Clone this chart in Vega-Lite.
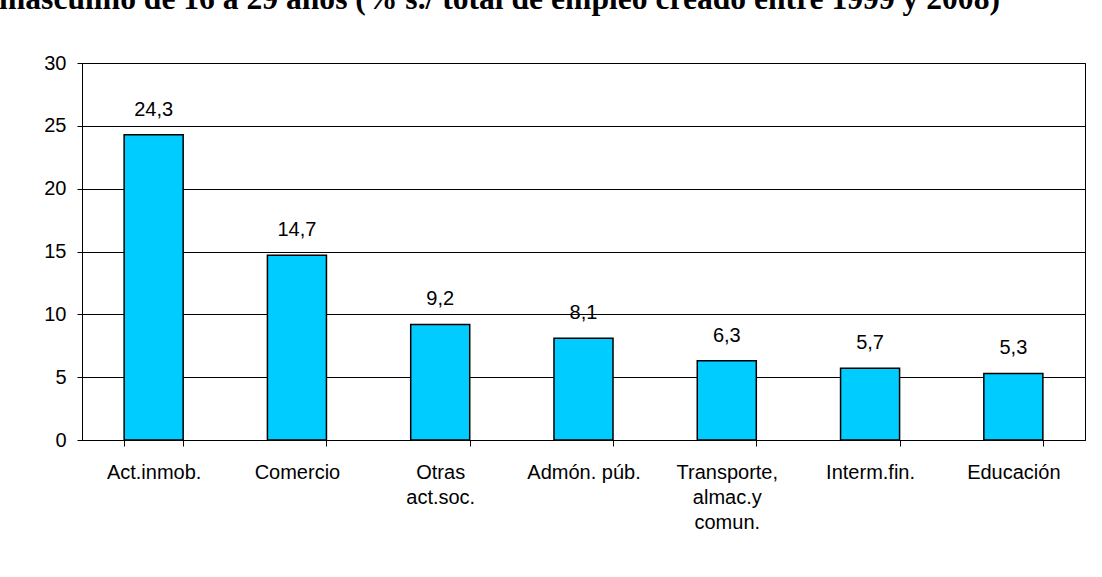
{
  "$schema": "https://vega.github.io/schema/vega-lite/v6.json",
  "width": 1003,
  "height": 377,
  "autosize": {"type": "none"},
  "padding": {"left": 82, "top": 63, "right": 17, "bottom": 137},
  "background": "white",
  "title": {
    "text": "masculino de 16 a 29 años (% s./ total de empleo creado entre 1999 y 2008)",
    "anchor": "start",
    "frame": "group",
    "font": "Liberation Serif",
    "fontSize": 31.6,
    "fontWeight": "bold",
    "color": "#000000",
    "baseline": "alphabetic",
    "dx": -83,
    "offset": 0,
    "dy": -12
  },
  "config": {
    "locale": {"number": {"decimal": ",", "thousands": ".", "grouping": [3], "currency": ["", " €"]}},
    "view": {"stroke": "#000000", "strokeWidth": 1},
    "font": "Liberation Sans"
  },
  "data": {
    "values": [
      {"sector": "Act.inmob.", "valor": 24.3},
      {"sector": "Comercio", "valor": 14.7},
      {"sector": "Otras act.soc.", "valor": 9.2},
      {"sector": "Admón. púb.", "valor": 8.1},
      {"sector": "Transporte, almac.y comun.", "valor": 6.3},
      {"sector": "Interm.fin.", "valor": 5.7},
      {"sector": "Educación", "valor": 5.3}
    ]
  },
  "encoding": {
    "x": {
      "field": "sector",
      "type": "nominal",
      "sort": null,
      "scale": {"paddingInner": 0.588, "paddingOuter": 0.294},
      "axis": {
        "title": null,
        "labelAngle": 0,
        "labelFont": "Liberation Sans",
        "labelFontSize": 20,
        "labelColor": "#000000",
        "labelPadding": 32,
        "labelLineHeight": 25,
        "labelBaseline": "alphabetic",
        "labelExpr": "datum.label == 'Otras act.soc.' ? ['Otras', 'act.soc.'] : datum.label == 'Transporte, almac.y comun.' ? ['Transporte,', 'almac.y', 'comun.'] : datum.label",
        "tickBand": "extent",
        "tickSize": 6,
        "tickColor": "#000000",
        "domainColor": "#000000",
        "grid": false
      }
    },
    "y": {
      "field": "valor",
      "type": "quantitative",
      "scale": {"domain": [0, 30], "nice": false},
      "axis": {
        "title": null,
        "values": [0, 5, 10, 15, 20, 25, 30],
        "labelFont": "Liberation Sans",
        "labelFontSize": 20,
        "labelColor": "#000000",
        "labelPadding": 11,
        "tickSize": 5,
        "tickColor": "#000000",
        "domainColor": "#000000",
        "gridColor": "#000000",
        "gridOpacity": 1,
        "gridWidth": 1
      }
    }
  },
  "layer": [
    {
      "mark": {"type": "bar", "color": "#00CCFF", "stroke": "#000000", "strokeWidth": 1.5}
    },
    {
      "mark": {"type": "text", "font": "Liberation Sans", "fontSize": 20, "color": "#000000", "baseline": "alphabetic", "dy": -19},
      "encoding": {
        "text": {"field": "valor", "type": "quantitative", "format": ".1f"}
      }
    }
  ]
}
